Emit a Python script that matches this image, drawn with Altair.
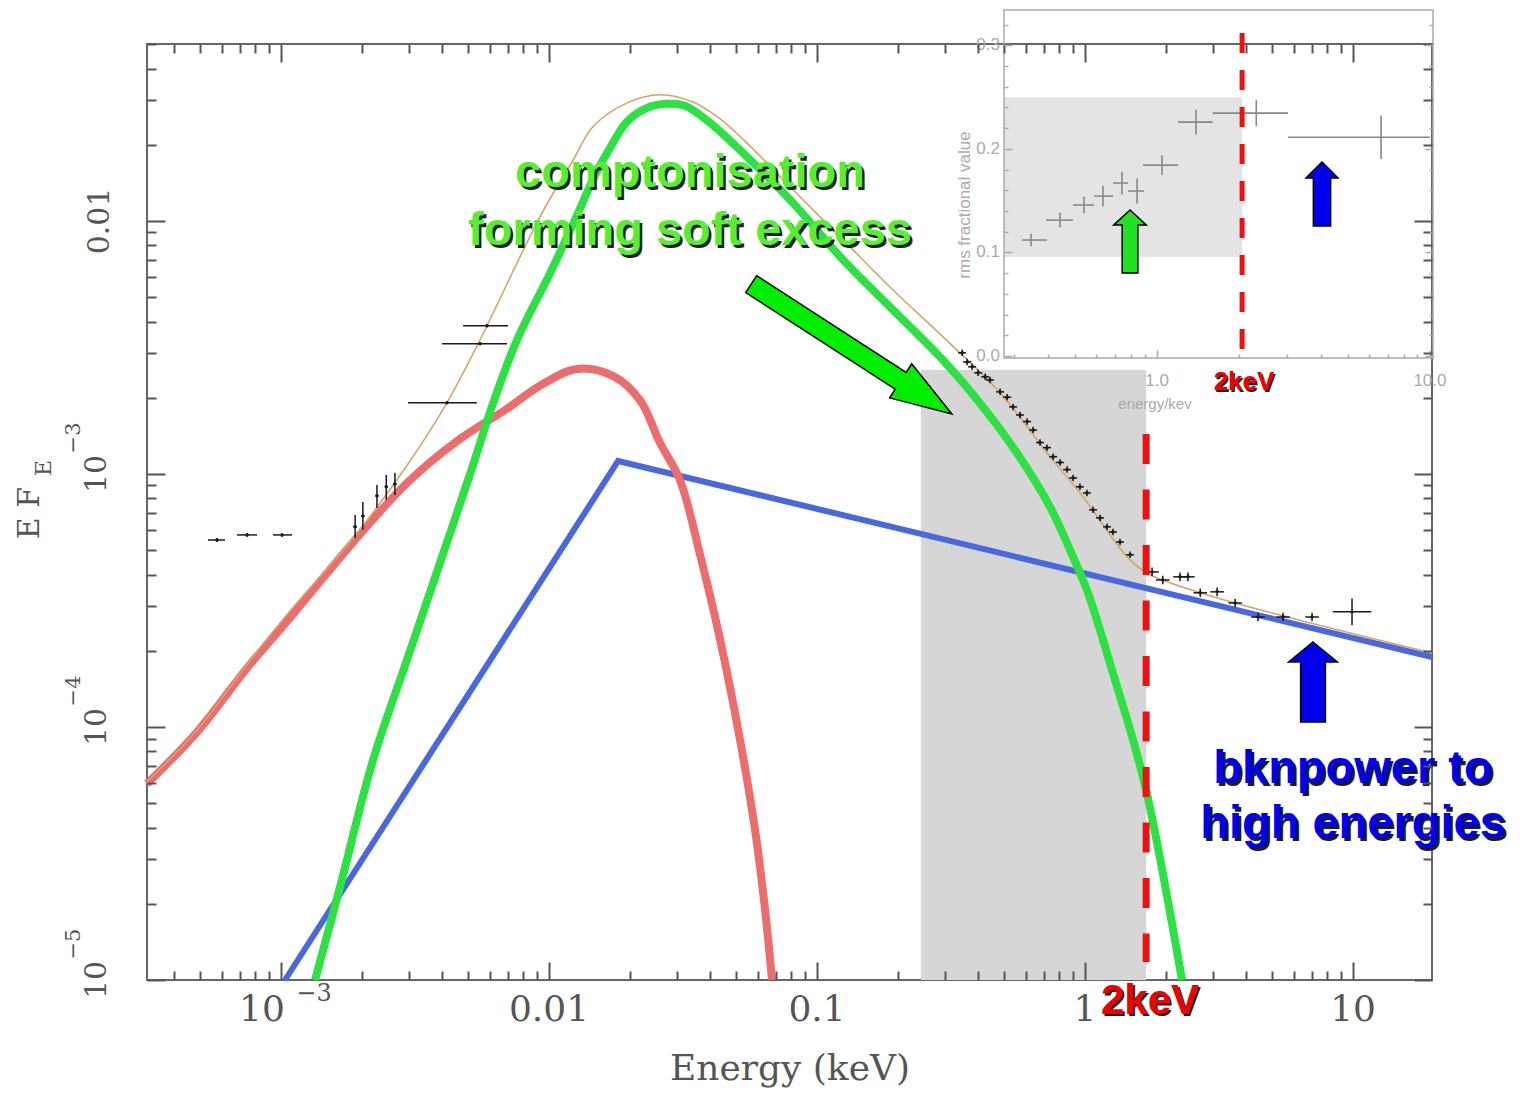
import altair as alt
import pandas as pd

# ---------------- model curves (E in keV, E*F_E) ----------------
disc_E = [3.16e-4, 4.86e-4, 7.47e-4, 1.08e-3, 1.86e-3, 2.95e-3, 4.54e-3, 6.97e-3, 9.25e-3,
          0.0127, 0.0173, 0.0219, 0.0259, 0.0308, 0.0366, 0.0435, 0.0516, 0.0587, 0.0640, 0.0679]
disc_F = [5.96e-5, 9.55e-5, 1.71e-4, 2.70e-4, 5.38e-4, 9.20e-4, 1.35e-3, 1.81e-3, 2.23e-3,
          2.60e-3, 2.44e-3, 1.95e-3, 1.33e-3, 9.46e-4, 4.79e-4, 2.21e-4, 8.89e-5, 3.92e-5, 1.89e-5, 1.0e-5]

compt_E = [1.34e-3, 1.66e-3, 2.20e-3, 2.95e-3, 3.92e-3, 5.20e-3, 6.03e-3, 7.60e-3,
           0.0101, 0.0125, 0.01486, 0.0169, 0.0195, 0.0228, 0.0271, 0.0321,
           0.0399, 0.0548, 0.0813, 0.125, 0.192, 0.295, 0.416, 0.557,
           0.740, 0.902, 1.016, 1.138, 1.271, 1.51, 1.70, 1.95, 2.30]
compt_F = [1.0e-5, 2.33e-5, 7.34e-5, 1.84e-4, 4.45e-4, 1.08e-3, 1.76e-3, 3.39e-3,
           6.22e-3, 0.01009, 0.0152, 0.01946, 0.0246, 0.0277, 0.0290, 0.0285,
           0.0244, 0.0179, 0.01178, 7.02e-3, 4.45e-3, 2.82e-3, 1.84e-3, 1.21e-3,
           7.41e-4, 4.70e-4, 3.48e-4, 2.41e-4, 1.63e-4, 8.89e-5, 5.48e-5, 2.65e-5, 1.0e-5]

bkn_E = [1.035e-3, 0.0181, 19.7]
bkn_F = [1.0e-5, 1.125e-3, 1.89e-4]

total_E = [3.16e-4, 4.86e-4, 7.47e-4, 1.08e-3, 1.86e-3, 2.95e-3, 4.16e-3, 5.53e-3,
           9.25e-3, 0.0123, 0.0146, 0.0195, 0.0259, 0.0344, 0.0424, 0.0548,
           0.0813, 0.125, 0.192, 0.295, 0.482, 0.740, 0.984, 1.435,
           1.70, 2.69, 5.68, 19.7]
total_F = [6.07e-5, 9.73e-5, 1.77e-4, 2.87e-4, 5.58e-4, 1.08e-3, 1.91e-3, 3.39e-3,
           0.01038, 0.0174, 0.0236, 0.0292, 0.0315, 0.0295, 0.0258, 0.0203,
           0.01327, 8.41e-3, 5.33e-3, 3.48e-3, 2.09e-3, 1.17e-3, 8.11e-4, 4.70e-4,
           4.06e-4, 3.39e-4, 2.72e-4, 1.96e-4]

# ---------------- optical / UV data points ----------------
uv_E = [5.77e-4, 7.47e-4, 1.009e-3, 1.89e-3, 2.02e-3, 2.28e-3, 2.47e-3, 2.66e-3, 4.16e-3, 5.53e-3, 5.87e-3]
uv_E_lo = [5.34e-4, 6.85e-4, 9.33e-4, 1.86e-3, 1.99e-3, 2.25e-3, 2.44e-3, 2.62e-3, 2.98e-3, 3.99e-3, 4.78e-3]
uv_E_hi = [6.18e-4, 8.14e-4, 1.099e-3, 1.92e-3, 2.05e-3, 2.31e-3, 2.50e-3, 2.70e-3, 5.38e-3, 6.97e-3, 7.03e-3]
uv_F = [5.48e-4, 5.74e-4, 5.74e-4, 6.18e-4, 6.82e-4, 8.19e-4, 8.89e-4, 9.12e-4, 1.91e-3, 3.27e-3, 3.85e-3]
uv_F_lo = [5.38e-4, 5.64e-4, 5.64e-4, 5.58e-4, 6.01e-4, 7.34e-4, 7.89e-4, 8.26e-4, 1.89e-3, 3.23e-3, 3.80e-3]
uv_F_hi = [5.58e-4, 5.84e-4, 5.84e-4, 6.88e-4, 7.75e-4, 9.05e-4, 9.91e-4, 1.01e-3, 1.93e-3, 3.31e-3, 3.90e-3]

# ---------------- X-ray data points ----------------
xr_E = [0.348, 0.363, 0.379, 0.399, 0.424, 0.442, 0.482, 0.512, 0.539, 0.572,
        0.608, 0.640, 0.679, 0.721, 0.760, 0.807, 0.857, 0.902, 0.957, 1.016,
        1.071, 1.138, 1.208, 1.271, 1.35, 1.472,
        1.778, 1.95, 2.26, 2.42, 2.69, 3.11, 3.63, 4.42, 5.48, 7.03, 9.91]
xr_F = [3.01e-3, 2.77e-3, 2.65e-3, 2.51e-3, 2.42e-3, 2.35e-3, 2.11e-3, 2.01e-3, 1.84e-3, 1.71e-3,
        1.61e-3, 1.49e-3, 1.33e-3, 1.27e-3, 1.17e-3, 1.11e-3, 1.04e-3, 9.64e-4, 8.89e-4, 8.41e-4,
        7.21e-4, 6.70e-4, 6.18e-4, 5.90e-4, 5.38e-4, 4.79e-4,
        4.10e-4, 3.81e-4, 3.92e-4, 3.92e-4, 3.39e-4, 3.42e-4, 3.09e-4, 2.72e-4, 2.72e-4, 2.72e-4, 2.85e-4]
xr_xerr = [0.035] * 26 + [0.06] * 10 + [0.18]   # fractional half widths
xr_yerr = [0.03] * 26 + [0.04] * 10 + [0.13]

# ---------------- inset: rms fractional variability ----------------
rms_E = [0.3455, 0.441, 0.540, 0.634, 0.744, 0.845, 1.043, 1.39, 2.31, 6.62]
rms_E_lo = [0.320, 0.392, 0.492, 0.588, 0.690, 0.783, 0.889, 1.194, 1.60, 3.02]
rms_E_hi = [0.395, 0.492, 0.588, 0.690, 0.783, 0.896, 1.194, 1.60, 3.02, 10.0]
rms_val = [0.1119, 0.1312, 0.1457, 0.1543, 0.1669, 0.1592, 0.1842, 0.2257, 0.2344, 0.2112]
rms_err = [0.006, 0.007, 0.008, 0.010, 0.011, 0.012, 0.0095, 0.012, 0.0126, 0.021]

# ---------------- bands / markers ----------------
band_E = [0.244, 1.69]
band_F_top = 2.58e-3
mark_2keV_main = 1.69
mark_2keV_inset = 2.05
inset_band_E = [0.275, 2.05]
inset_band_r = [0.0955, 0.2498]

# ---------------- ticks and labels ----------------
X_DOM = [3.162e-4, 19.7]
Y_DOM = [1e-5, 0.05]
x_major = [1e-3, 1e-2, 1e-1, 1.0, 10.0]
y_major = [1e-5, 1e-4, 1e-3, 1e-2]
x_minor = [k * 10.0 ** p for p in range(-4, 2) for k in range(2, 10) if X_DOM[0] <= k * 10.0 ** p <= X_DOM[1]]
y_minor = [k * 10.0 ** p for p in range(-5, -1) for k in range(2, 10) if k * 10.0 ** p <= Y_DOM[1]]
x_plain_vals = [0.01, 0.1, 1.0, 10.0]
x_plain_text = ["0.01", "0.1", "1", "10"]
y_pow_vals = [1e-3, 1e-4, 1e-5]
y_pow_sup = ["\u22123", "\u22124", "\u22125"]

IX_DOM = [0.275, 10.26]
IY_DOM = [-0.002, 0.334]
in_x_major = [1.0, 10.0]
in_x_minor = [0.3, 0.4, 0.5, 0.6, 0.7, 0.8, 0.9, 2, 3, 4, 5, 6, 7, 8, 9]
in_y_major = [0.0, 0.1, 0.2, 0.3]
in_y_minor = [0.02, 0.04, 0.06, 0.08, 0.12, 0.14, 0.16, 0.18, 0.22, 0.24, 0.26, 0.28, 0.32]
in_y_text = ["0.0", "0.1", "0.2", "0.3"]
in_x_text = ["1.0", "10.0"]

# ---------------- layout ----------------
W, H = 1285, 936
SERIF = "DejaVu Serif"
SANS = "Liberation Sans"
one = pd.DataFrame({"k": [0]})


def xs():
    return alt.Scale(type="log", domain=X_DOM, nice=False)


def ys():
    return alt.Scale(type="log", domain=Y_DOM, nice=False)


def ixs():
    return alt.Scale(type="log", domain=IX_DOM, range=[857, 1286], nice=False)


def iys():
    return alt.Scale(type="linear", domain=IY_DOM, range=[314, -34], nice=False, zero=False)


def tick_axis(orient, offset, values, size, color="#555555", width=2):
    return alt.Axis(orient=orient, offset=offset, values=values, tickSize=size, tickWidth=width,
                    tickColor=color, labels=False, domain=False, grid=False, ticks=True,
                    title=None, zindex=1)


def curve(E, F, color, w, xaxis, yaxis, interp="catmull-rom"):
    df = pd.DataFrame({"E": E, "F": F})
    return alt.Chart(df).mark_line(color=color, strokeWidth=w, interpolate=interp).encode(
        x=alt.X("E:Q", scale=xs(), axis=xaxis),
        y=alt.Y("F:Q", scale=ys(), axis=yaxis),
    )


def text(t, x, y, size, color, font=SANS, weight="bold", baseline="alphabetic", angle=None, dx=0, dy=0):
    kw = dict(fontSize=size, color=color, font=font, fontWeight=weight, baseline=baseline,
              align="center", dx=dx, dy=dy)
    if angle is not None:
        kw["angle"] = angle
    return alt.Chart(one).mark_text(**kw).encode(x=alt.value(x), y=alt.value(y), text=alt.value(t))


def shadow_text(t, x, y, size, color, off=2.5):
    return [text(t, x, y, size, "#1e1e1e", dx=off, dy=off), text(t, x, y, size, color)]


def arrow(path, x, y, size, fill, angle=0):
    return alt.Chart(one).mark_point(shape=path, size=size, angle=angle, filled=True, fill=fill,
                                     stroke="#000000", strokeWidth=1.5, opacity=1).encode(
        x=alt.value(x), y=alt.value(y))


# ================= main panel =================
band = alt.Chart(pd.DataFrame({"E0": [band_E[0]], "E1": [band_E[1]],
                               "F0": [band_F_top], "F1": [Y_DOM[0]]})).mark_rect(color="#d6d6d6").encode(
    x=alt.X("E0:Q", scale=xs(), axis=None), x2="E1:Q",
    y=alt.Y("F0:Q", scale=ys(), axis=None), y2="F1:Q")

blue = curve(bkn_E, bkn_F, "#4a68dd", 6,
             tick_axis("top", -H, x_major, 18), tick_axis("right", -W, y_major, 18), interp="linear")
red = curve(disc_E, disc_F, "#ec6d6d", 8,
            tick_axis("top", -H, x_minor, 9), tick_axis("right", -W, y_minor, 9))
green = curve(compt_E, compt_F, "#2ee043", 8,
              tick_axis("bottom", -H, x_major, 18), tick_axis("left", -W, y_major, 18))
total = curve(total_E, total_F, "#d4a46a", 1.6,
              tick_axis("bottom", -H, x_minor, 9), tick_axis("left", -W, y_minor, 9))

df_uv = pd.DataFrame({"E": uv_E, "Elo": uv_E_lo, "Ehi": uv_E_hi, "F": uv_F, "Flo": uv_F_lo, "Fhi": uv_F_hi})
df_xr = pd.DataFrame({"E": xr_E, "F": xr_F,
                      "Elo": [e / (1 + f) for e, f in zip(xr_E, xr_xerr)],
                      "Ehi": [e * (1 + f) for e, f in zip(xr_E, xr_xerr)],
                      "Flo": [v / (1 + f) for v, f in zip(xr_F, xr_yerr)],
                      "Fhi": [v * (1 + f) for v, f in zip(xr_F, xr_yerr)]})
pts = []
for df in (df_uv, df_xr):
    base = alt.Chart(df)
    pts.append(base.mark_rule(color="#1a1a1a", strokeWidth=1.5).encode(
        x=alt.X("Elo:Q", scale=xs(), axis=None), x2="Ehi:Q", y=alt.Y("F:Q", scale=ys(), axis=None)))
    pts.append(base.mark_rule(color="#1a1a1a", strokeWidth=1.5).encode(
        x=alt.X("E:Q", scale=xs(), axis=None), y=alt.Y("Flo:Q", scale=ys(), axis=None), y2="Fhi:Q"))
    pts.append(base.mark_point(filled=True, color="#1a1a1a", size=12, opacity=1).encode(
        x=alt.X("E:Q", scale=xs(), axis=None), y=alt.Y("F:Q", scale=ys(), axis=None)))

dash_main = alt.Chart(pd.DataFrame({"E": [mark_2keV_main]})).mark_rule(
    color="#ee1111", strokeWidth=7, strokeDash=[30, 25.5]).encode(
    x=alt.X("E:Q", scale=xs(), axis=None), y=alt.value(390), y2=alt.value(918))

# tick labels
xlab = alt.Chart(pd.DataFrame({"E": x_plain_vals, "t": x_plain_text})).mark_text(
    font=SERIF, fontSize=36, color="#555555").encode(
    x=alt.X("E:Q", scale=xs(), axis=None), y=alt.value(966), text="t:N")
xlab10 = alt.Chart(pd.DataFrame({"E": [1e-3]})).mark_text(
    font=SERIF, fontSize=36, color="#555555", dx=-19).encode(
    x=alt.X("E:Q", scale=xs(), axis=None), y=alt.value(966), text=alt.value("10"))
xlabsup = alt.Chart(pd.DataFrame({"E": [1e-3]})).mark_text(
    font=SERIF, fontSize=24, color="#555555", dx=33).encode(
    x=alt.X("E:Q", scale=xs(), axis=None), y=alt.value(950), text=alt.value("\u22123"))
ylab = alt.Chart(pd.DataFrame({"F": [0.01], "t": ["0.01"]})).mark_text(
    font=SERIF, fontSize=30, color="#555555", angle=270).encode(
    y=alt.Y("F:Q", scale=ys(), axis=None), x=alt.value(-47), text="t:N")
ylab10 = alt.Chart(pd.DataFrame({"F": y_pow_vals})).mark_text(
    font=SERIF, fontSize=30, color="#555555", angle=270).encode(
    y=alt.Y("F:Q", scale=ys(), axis=None), x=alt.value(-50), text=alt.value("10"))
ylabsup = alt.Chart(pd.DataFrame({"F": y_pow_vals, "t": y_pow_sup})).mark_text(
    font=SERIF, fontSize=21, color="#555555", angle=270, dx=36).encode(
    y=alt.Y("F:Q", scale=ys(), axis=None), x=alt.value(-73), text="t:N")

axis_titles = [
    text("Energy (keV)", 643, 1025, 36, "#555555", font=SERIF, weight="normal", baseline="middle"),
    text("E F", -117, 469, 30, "#555555", font=SERIF, weight="normal", baseline="middle", angle=270),
    text("E", -103, 424, 22, "#555555", font=SERIF, weight="normal", baseline="middle", angle=270),
]

main = alt.layer(band, blue, red, green, total, *pts, dash_main,
                 xlab, xlab10, xlabsup, ylab, ylab10, ylabsup, *axis_titles).resolve_axis(
    x="independent", y="independent")

# ================= inset =================
IC = "#aaaaaa"
in_band = alt.Chart(pd.DataFrame({"E0": [inset_band_E[0]], "E1": [inset_band_E[1]],
                                  "r0": [inset_band_r[0]], "r1": [inset_band_r[1]]})).mark_rect(
    color="#e4e4e4").encode(
    x=alt.X("E0:Q", scale=ixs(), axis=tick_axis("top", -314, in_x_major, 8, IC, 1.5)), x2="E1:Q",
    y=alt.Y("r0:Q", scale=iys(), axis=tick_axis("right", -428, in_y_major, 8, IC, 1.5)), y2="r1:Q")
in_frame = alt.Chart(pd.DataFrame({"E0": [IX_DOM[0]], "E1": [IX_DOM[1]],
                                   "r0": [IY_DOM[0]], "r1": [IY_DOM[1]]})).mark_rect(
    filled=False, color=IC, strokeWidth=1.5).encode(
    x=alt.X("E0:Q", scale=ixs(), axis=tick_axis("top", -314, in_x_minor, 4, IC, 1.5)), x2="E1:Q",
    y=alt.Y("r0:Q", scale=iys(), axis=tick_axis("right", -428, in_y_minor, 4, IC, 1.5)), y2="r1:Q")
df_rms = pd.DataFrame({"E": rms_E, "Elo": rms_E_lo, "Ehi": rms_E_hi, "r": rms_val,
                       "rlo": [v - e for v, e in zip(rms_val, rms_err)],
                       "rhi": [v + e for v, e in zip(rms_val, rms_err)]})
in_h = alt.Chart(df_rms).mark_rule(color="#888888", strokeWidth=1.6).encode(
    x=alt.X("Elo:Q", scale=ixs(), axis=None), x2="Ehi:Q",
    y=alt.Y("r:Q", scale=iys(), axis=tick_axis("left", -1286, in_y_major, 8, IC, 1.5)))
in_v = alt.Chart(df_rms).mark_rule(color="#888888", strokeWidth=1.6).encode(
    x=alt.X("E:Q", scale=ixs(), axis=None),
    y=alt.Y("rlo:Q", scale=iys(), axis=tick_axis("left", -1286, in_y_minor, 4, IC, 1.5)), y2="rhi:Q")
in_dash = alt.Chart(pd.DataFrame({"E": [mark_2keV_inset]})).mark_rule(
    color="#ee1111", strokeWidth=5, strokeDash=[20, 17]).encode(
    x=alt.X("E:Q", scale=ixs(), axis=None), y=alt.value(-11), y2=alt.value(308))
in_ylab = alt.Chart(pd.DataFrame({"r": in_y_major, "t": in_y_text})).mark_text(
    font=SANS, fontSize=17, color=IC, align="right").encode(
    y=alt.Y("r:Q", scale=iys(), axis=None), x=alt.value(853), text="t:N")
in_xlab = alt.Chart(pd.DataFrame({"E": in_x_major, "t": in_x_text})).mark_text(
    font=SANS, fontSize=17, color=IC).encode(
    x=alt.X("E:Q", scale=ixs(), axis=None), y=alt.value(337), text="t:N")
in_titles = [
    text("energy/kev", 1008, 360, 15, IC, weight="normal", baseline="middle"),
    text("rms  fractional  value", 818, 161, 17, IC, weight="normal", baseline="middle", angle=270),
]
inset = alt.layer(in_band, in_frame, in_h, in_v, in_dash, in_ylab, in_xlab, *in_titles).resolve_axis(
    x="independent", y="independent")

# ================= annotations =================
UP_BIG = "M0,-1L0.61,-0.5L0.31,-0.5L0.31,1L-0.31,1L-0.31,-0.5L-0.61,-0.5Z"
UP_G = "M0,-1L0.52,-0.52L0.25,-0.52L0.25,1L-0.25,1L-0.25,-0.52L-0.52,-0.52Z"
UP_B = "M0,-1L0.5,-0.5L0.27,-0.5L0.27,1L-0.27,1L-0.27,-0.5L-0.5,-0.5Z"
DIAG = "M-1,-0.084L0.49,-0.084L0.49,-0.17L1,0L0.49,0.17L0.49,0.084L-1,0.084Z"

notes = alt.layer(
    arrow(DIAG, 704.5, 305, 57121, "#00ee00", angle=32.9),
    arrow(UP_BIG, 1166, 638, 6400, "#0000ee"),
    arrow(UP_G, 983, 197.5, 3969, "#22e022"),
    arrow(UP_B, 1175, 150, 4096, "#0000ee"),
    *shadow_text("comptonisation", 543, 143, 47, "#55ee33"),
    *shadow_text("forming soft excess", 543, 201, 47, "#55ee33"),
    *shadow_text("bknpower to", 1206, 739, 47, "#0000ee"),
    *shadow_text("high energies", 1206, 794, 47, "#0000ee"),
    *shadow_text("2keV", 1003, 970, 42, "#ee0000", off=2),
    *shadow_text("2keV", 1097, 346, 26, "#ee0000", off=1.5),
)

chart = alt.layer(main, inset, notes).resolve_scale(
    x="independent", y="independent").resolve_axis(
    x="independent", y="independent").properties(
    width=W, height=H,
    padding={"left": 147, "top": 44, "right": 92, "bottom": 114},
    autosize=alt.AutoSizeParams(type="none"),
    background="white",
).configure_view(stroke="#666666", strokeWidth=2)

chart.save("out.html", embed_options={"renderer": "svg", "actions": False})
